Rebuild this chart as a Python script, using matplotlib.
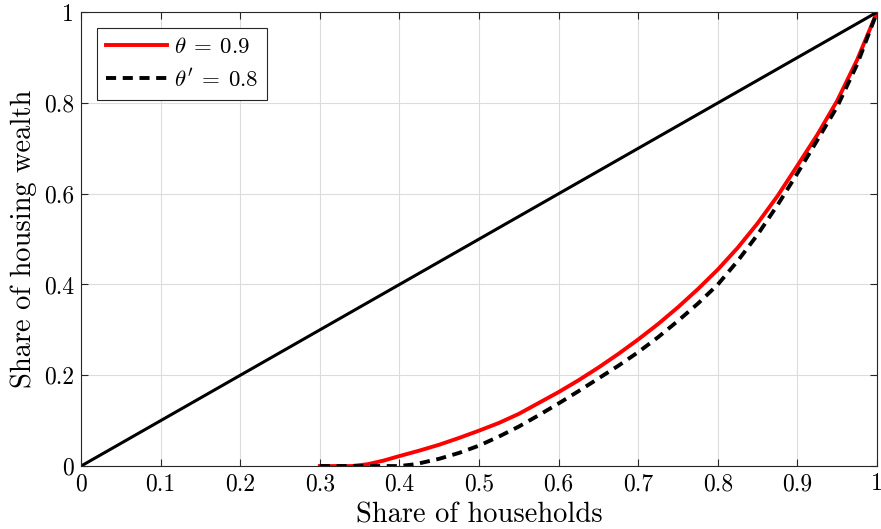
import numpy as np
import matplotlib
matplotlib.use("Agg")
from matplotlib import pyplot as plt

# データ
share_hh = [0.30, 0.34, 0.36, 0.38, 0.40, 0.425, 0.45, 0.475, 0.50, 0.525, 0.55,
            0.575, 0.60, 0.625, 0.65, 0.675, 0.70, 0.725, 0.75, 0.775, 0.80,
            0.825, 0.85, 0.875, 0.90, 0.925, 0.95, 0.975, 1.00]
wealth_09 = [0.0, 0.0, 0.004, 0.012, 0.022, 0.034, 0.047, 0.062, 0.078, 0.095, 0.115,
             0.139, 0.163, 0.189, 0.217, 0.247, 0.279, 0.313, 0.350, 0.390, 0.433,
             0.481, 0.535, 0.595, 0.662, 0.730, 0.805, 0.895, 1.0]

share_hh2 = [0.30, 0.40, 0.42, 0.45, 0.475, 0.50, 0.525, 0.55, 0.575, 0.60, 0.625,
             0.65, 0.675, 0.70, 0.725, 0.75, 0.775, 0.80, 0.825, 0.85, 0.875,
             0.90, 0.925, 0.95, 0.975, 1.00]
wealth_08 = [0.0, 0.0, 0.004, 0.016, 0.029, 0.045, 0.065, 0.087, 0.112, 0.138, 0.165,
             0.193, 0.221, 0.251, 0.284, 0.320, 0.358, 0.400, 0.452, 0.510, 0.575,
             0.645, 0.718, 0.792, 0.885, 1.0]

diag = [0, 1]
ticks_x = [0, 0.1, 0.2, 0.3, 0.4, 0.5, 0.6, 0.7, 0.8, 0.9, 1]
ticks_y = [0, 0.2, 0.4, 0.6, 0.8, 1]

plt.rcParams["font.family"] = "cmr10"
plt.rcParams["mathtext.fontset"] = "cm"
plt.rcParams["axes.formatter.use_mathtext"] = True

fig = plt.figure(figsize=(8.81, 5.29), dpi=100)
ax = fig.add_axes([0.092, 0.119, 0.9035, 0.858])

ax.plot(share_hh, wealth_09, color="red", linewidth=2.8, label=r"$\theta\:=\:0.9$")
ax.plot(share_hh2, wealth_08, color="black", linewidth=2.8, linestyle=(0, (2.6, 1.7)),
        label=r"$\theta'\:=\:0.8$")
ax.plot(diag, diag, color="black", linewidth=2.2)

ax.set_xlim(0, 1)
ax.set_ylim(0, 1)
ax.set_xticks(ticks_x)
ax.set_yticks(ticks_y)
ax.set_xticklabels(["0", "0.1", "0.2", "0.3", "0.4", "0.5", "0.6", "0.7", "0.8", "0.9", "1"])
ax.set_yticklabels(["0", "0.2", "0.4", "0.6", "0.8", "1"])
ax.tick_params(direction="in", top=True, right=True, labelsize=17,
               color="#262626", length=5, width=0.8, pad=5)
ax.grid(True, color="#dcdcdc", linewidth=0.8)
ax.set_axisbelow(True)
for s in ax.spines.values():
    s.set_color("#262626")
    s.set_linewidth(0.8)

ax.set_xlabel("Share of households", fontsize=20.5, labelpad=5)
ax.set_ylabel("Share of housing wealth", fontsize=20.5, labelpad=5)

leg = ax.legend(loc="upper left", fontsize=16.5, fancybox=False, framealpha=1,
                edgecolor="#262626", handlelength=2.65, borderaxespad=0.7,
                handletextpad=0.3, borderpad=0.4, labelspacing=0.45)
leg.get_frame().set_linewidth(0.8)

fig.savefig("out.png", dpi=100)
